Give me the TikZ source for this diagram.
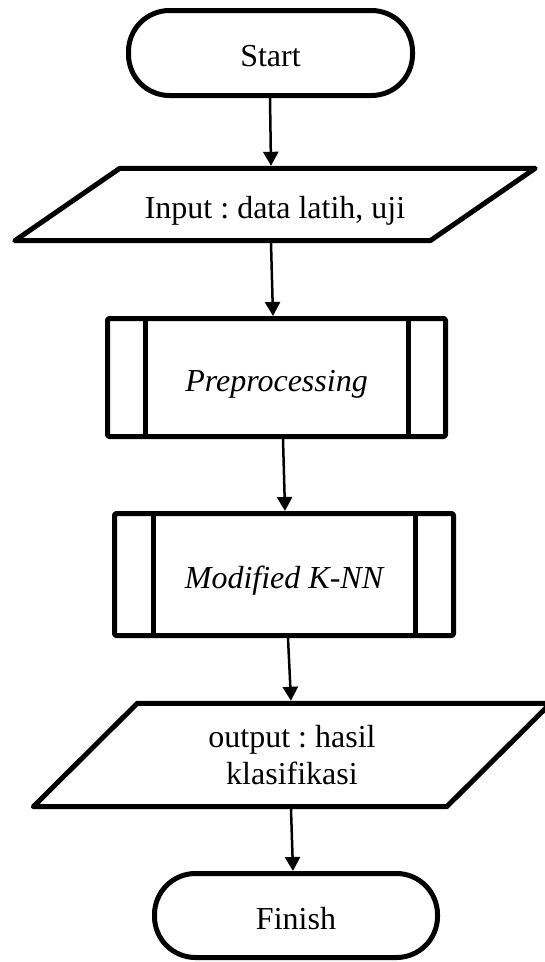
\documentclass[tikz,border=0pt]{standalone}
\usepackage{fontspec}
\setmainfont{Liberation Serif}
\usetikzlibrary{arrows.meta}
\begin{document}
\frenchspacing
\begin{tikzpicture}[x=1pt,y=-1pt,
  font=\fontsize{32}{37.5}\selectfont,
  shp/.style={line width=5pt,line join=round},
  term/.style={draw,shp,rounded corners=41pt,minimum width=284pt,minimum height=85pt,inner sep=0pt,text height=27pt,text depth=0pt},
  proc/.style={draw,shp,rounded corners=2pt,inner sep=0pt,text height=27pt,text depth=0pt,font=\fontsize{32}{37.5}\selectfont\itshape},
  iobox/.style={inner sep=0pt,align=center},
  arr/.style={line width=2.5pt,-{Triangle[length=14pt,width=15pt]}}
]
\useasboundingbox (0,0) rectangle (545,962);

% Start
\node[term] (start) at (270.5,53) {Start};

% Input parallelogram
\node[iobox,minimum width=415pt,minimum height=72pt,text height=27pt,text depth=0pt] (in) at (275,204.5) {Input : data latih, uji};
\draw[shp] ([xshift=52.5pt]in.north west) -- ([xshift=52.5pt]in.north east)
  -- ([xshift=-52.5pt]in.south east) -- ([xshift=-52.5pt]in.south west) -- cycle;

% Preprocessing
\node[proc,minimum width=338pt,minimum height=118pt] (pre) at (276.5,377.5) {Preprocessing};
\draw[shp] ([xshift=40pt]pre.north west) -- ([xshift=40pt]pre.south west);
\draw[shp] ([xshift=-40pt]pre.north east) -- ([xshift=-40pt]pre.south east);

% Modified K-NN
\node[proc,minimum width=339pt,minimum height=122pt] (mod) at (284,574.5) {Modified K-NN};
\draw[shp] ([xshift=41pt]mod.north west) -- ([xshift=41pt]mod.south west);
\draw[shp] ([xshift=-41pt]mod.north east) -- ([xshift=-41pt]mod.south east);

% Output parallelogram
\node[iobox,minimum width=413pt,minimum height=103pt] (out) at (292,755) {output : hasil\\klasifikasi};
\draw[shp] ([xshift=52pt]out.north west) -- ([xshift=52pt]out.north east)
  -- ([xshift=-52pt]out.south east) -- ([xshift=-52pt]out.south west) -- cycle;

% Finish
\node[term,minimum width=283pt,minimum height=84pt] (fin) at (296,915.5) {Finish};

% Connectors
\draw[arr] ([xshift=-0.5pt]start.south) -- ([xshift=-4pt,yshift=2.5pt]in.north);
\draw[arr] ([xshift=-4pt,yshift=-2.5pt]in.south) -- ([xshift=-3.5pt]pre.north);
\draw[arr] ([xshift=6.5pt]pre.south) -- ([xshift=1pt]mod.north);
\draw[arr] ([xshift=4pt]mod.south) -- ([xshift=-1pt,yshift=2.5pt]out.north);
\draw[arr] ([xshift=-1pt,yshift=-2.5pt]out.south) -- ([xshift=-3pt]fin.north);
\end{tikzpicture}
\end{document}
